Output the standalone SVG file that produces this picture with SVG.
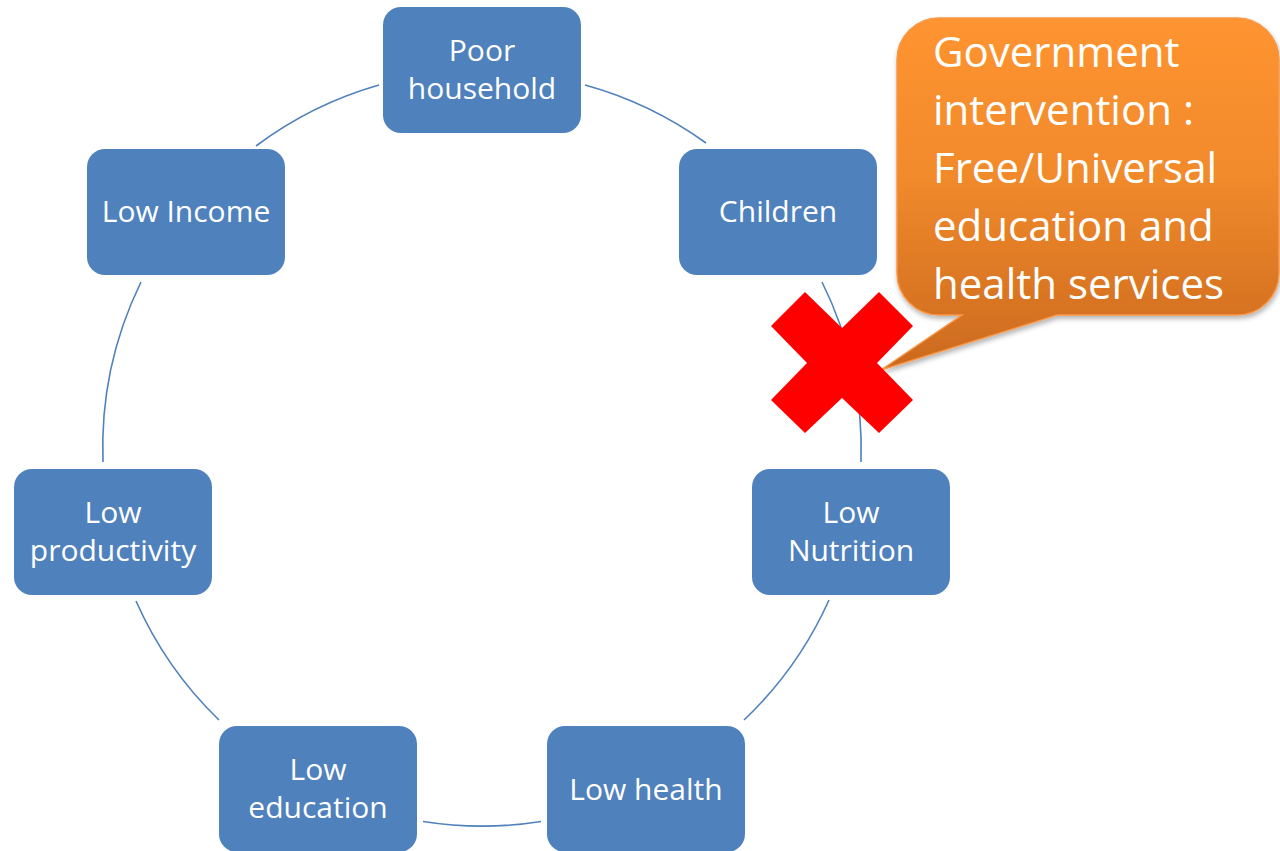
<svg xmlns="http://www.w3.org/2000/svg" width="1280" height="851" viewBox="0 0 1280 851">
  <defs>
    <linearGradient id="calloutFill" gradientUnits="userSpaceOnUse" x1="0" y1="18" x2="0" y2="370">
      <stop offset="0" stop-color="#FF9430"/>
      <stop offset="0.45" stop-color="#F18A2C"/>
      <stop offset="1" stop-color="#CB691E"/>
    </linearGradient>
    <filter id="softShadow" x="-10%" y="-10%" width="120%" height="130%">
      <feDropShadow dx="1" dy="3" stdDeviation="2.5" flood-color="#000" flood-opacity="0.3"/>
    </filter>
  </defs>
  <style>
    .node rect { fill: #4F81BD; }
    .node text { fill: #FFFFFF; font-family: "Open Sans", "Liberation Sans", sans-serif; font-size: 30px; text-anchor: middle; }
    .link { fill: none; stroke: #4F81BD; stroke-width: 1.6; }
    .callout-text { fill: #FFFFFF; font-family: "Open Sans", "Liberation Sans", sans-serif; font-size: 42px; }
  </style>
  <rect width="1280" height="851" fill="#FFFFFF"/>

  <!-- cycle arcs: circle centre (482,448), r 378 -->
  <g id="connectors">
    <path class="link" d="M585,85 A378,378 0 0 1 706,143"/>
    <path class="link" d="M822,282 A378,378 0 0 1 861,462"/>
    <path class="link" d="M829,600 A378,378 0 0 1 744,720"/>
    <path class="link" d="M541,821.5 A378,378 0 0 1 423,821.5"/>
    <path class="link" d="M219,720 A378,378 0 0 1 136,601"/>
    <path class="link" d="M103,462 A378,378 0 0 1 141,282"/>
    <path class="link" d="M256,146 A378,378 0 0 1 379,85"/>
  </g>

  <g id="node-poor-household" class="node">
    <rect x="383" y="7" width="198" height="126" rx="18"/>
    <text x="482" y="60.5">Poor</text>
    <text x="482" y="98.5">household</text>
  </g>
  <g id="node-children" class="node">
    <rect x="679" y="149" width="198" height="126" rx="18"/>
    <text x="778" y="222">Children</text>
  </g>
  <g id="node-low-nutrition" class="node">
    <rect x="752" y="469" width="198" height="126" rx="18"/>
    <text x="851" y="522.5">Low</text>
    <text x="851" y="560.5">Nutrition</text>
  </g>
  <g id="node-low-health" class="node">
    <rect x="547" y="726" width="198" height="126" rx="18"/>
    <text x="646" y="799.5">Low health</text>
  </g>
  <g id="node-low-education" class="node">
    <rect x="219" y="726" width="198" height="126" rx="18"/>
    <text x="318" y="780">Low</text>
    <text x="318" y="818">education</text>
  </g>
  <g id="node-low-productivity" class="node">
    <rect x="14" y="469" width="198" height="126" rx="18"/>
    <text x="113" y="522.5">Low</text>
    <text x="113" y="560.5">productivity</text>
  </g>
  <g id="node-low-income" class="node">
    <rect x="87" y="149" width="198" height="126" rx="18"/>
    <text x="186" y="222">Low Income</text>
  </g>

  <!-- speech-bubble callout -->
  <g id="callout">
    <path d="M939,18 H1237 A42,42 0 0 1 1279,60 V273 A42,42 0 0 1 1237,315 H1057 L881,370 L962,315 H939 A42,42 0 0 1 897,273 V60 A42,42 0 0 1 939,18 Z"
          fill="url(#calloutFill)" stroke="#F79646" stroke-width="1.5" filter="url(#softShadow)"/>
    <text class="callout-text" x="933" y="67">Government</text>
    <text class="callout-text" x="933" y="125">intervention :</text>
    <text class="callout-text" x="933" y="183">Free/Universal</text>
    <text class="callout-text" x="933" y="241">education and</text>
    <text class="callout-text" x="933" y="299">health services</text>
  </g>

  <!-- red cross over the Children -> Low Nutrition link -->
  <g id="cross">
    <polygon fill="#FF0000" points="771,326 805,292 842,328 879,292 913,326 877,363 913,400 879,433 842,398 805,433 771,400 807,363"/>
  </g>
</svg>
